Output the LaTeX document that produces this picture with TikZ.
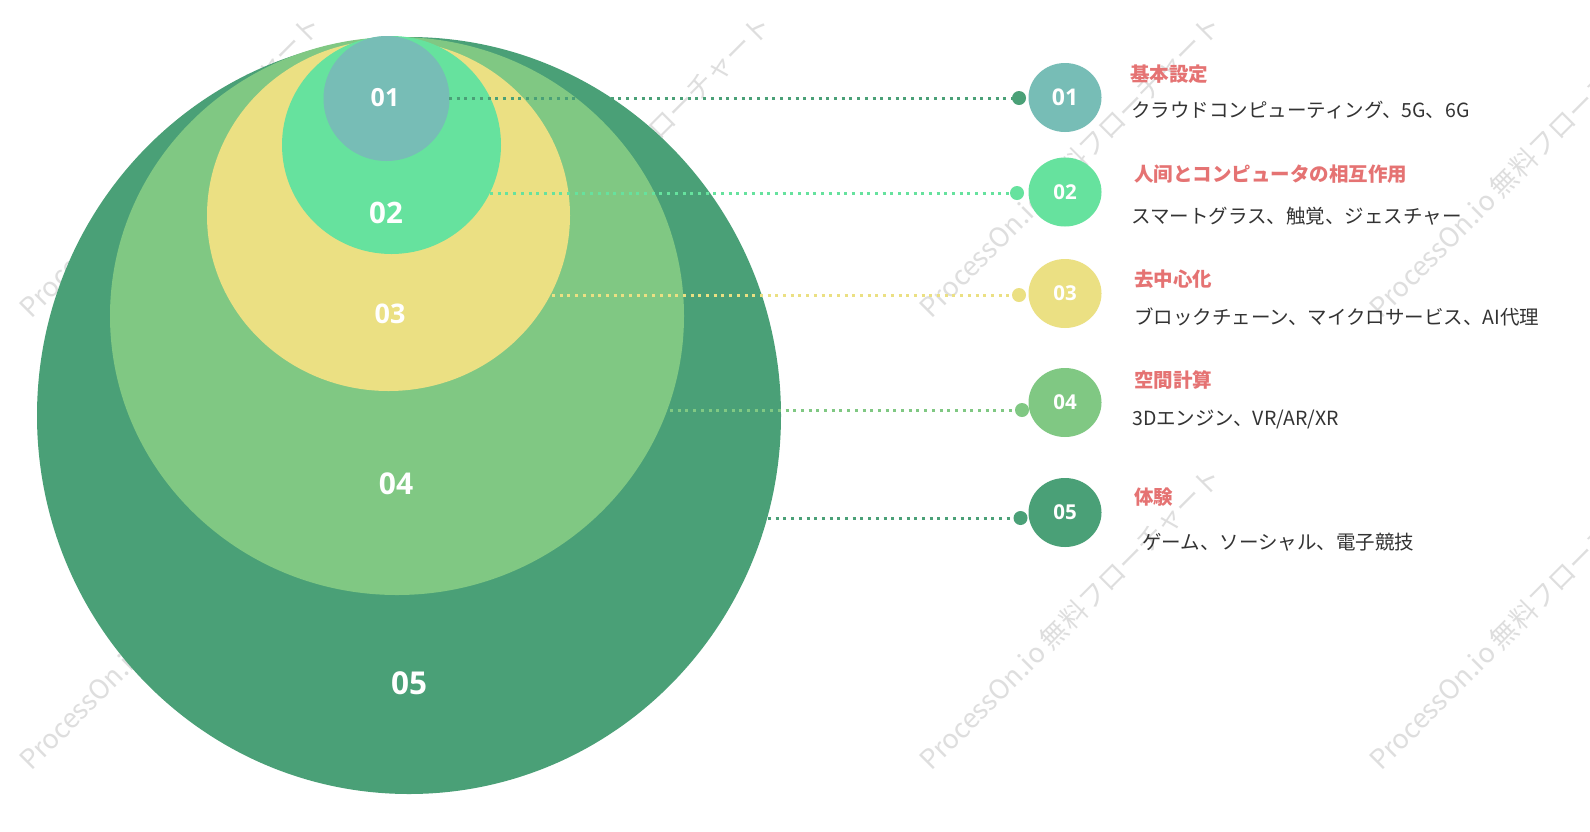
\documentclass[tikz,border=0pt]{standalone}
\usepackage{fontspec}
\usetikzlibrary{shapes.geometric}
\newfontfamily\jp{Noto Sans CJK JP}
\newfontfamily\num{Open Sans}
\definecolor{cfive}{HTML}{4AA077}
\definecolor{cfour}{HTML}{80C883}
\definecolor{cthree}{HTML}{EBE083}
\definecolor{ctwo}{HTML}{66E29E}
\definecolor{cone}{HTML}{77BDB6}
\definecolor{ttl}{HTML}{E57373}
\definecolor{bodytxt}{HTML}{333333}
\definecolor{wmgray}{HTML}{DEDEDE}
\tikzset{
  blob/.style={ellipse, draw=none, inner sep=0pt},
  biglab/.style={text=white, inner sep=0pt, font=\num\bfseries\fontsize{#1}{#1}\selectfont},
  smallcirc/.style={ellipse, draw=none, inner sep=0pt, minimum width=73pt, minimum height=69pt, text=white, font=\num\bfseries\fontsize{20.5}{20.5}\selectfont},
  enddot/.style={circle, draw=none, inner sep=0pt, minimum size=14pt},
  dotline/.style={line width=3pt, dash pattern=on 3pt off 4.7pt, line cap=butt},
  ttltext/.style={anchor=west, inner sep=0pt, text=ttl, font=\jp\bfseries\fontsize{19.5}{19.5}\selectfont},
  bodytext/.style={anchor=west, inner sep=0pt, text=bodytxt, font=\jp\fontsize{19.5}{19.5}\selectfont},
  wm/.style={anchor=base west, rotate=45, inner sep=0pt, text=wmgray, font=\jp\fontsize{27}{27}\selectfont}
}
\begin{document}
\begin{tikzpicture}[x=1pt,y=-1pt]
\useasboundingbox[fill=white] (0,0) rectangle (1590,831);
% watermarks
\foreach \wx in {31,481,931,1381}{
  \foreach \wy in {320,772}{
    \node[wm] (wm-\wx-\wy) at (\wx,\wy) {ProcessOn.io 無料フローチャート};
  }
}
% nested ellipses
\node[blob, fill=cfive, minimum width=744pt, minimum height=757pt] (e5) at (409,415.5) {};
\node[blob, fill=cfour, minimum width=574pt, minimum height=558pt] (e4) at (397,316) {};
\node[blob, fill=cthree, minimum width=363pt, minimum height=351pt] (e3) at (388.5,215.5) {};
\node[blob, fill=ctwo, minimum width=219pt, minimum height=218pt] (e2) at (391.5,145) {};
\node[blob, fill=cone, minimum width=126pt, minimum height=125pt] (e1) at (386.5,98.5) {};
% big labels
\node[biglab=25] (l1) at (385,98) {01};
\node[biglab=29.5] (l2) at (386,213) {02};
\node[biglab=27] (l3) at (390,314) {03};
\node[biglab=30] (l4) at (396,484) {04};
\node[biglab=31.5] (l5) at (409,683) {05};
% line starts
\coordinate (s1) at (449,98);
\coordinate (s2) at (490,193);
\coordinate (s3) at (552,295);
\coordinate (s4) at (670,410);
\coordinate (s5) at (768,518);
% end dots
\node[enddot, fill=cfive] (d1) at (1019,98) {};
\node[enddot, fill=ctwo] (d2) at (1017,193) {};
\node[enddot, fill=cthree] (d3) at (1019,295) {};
\node[enddot, fill=cfour] (d4) at (1022,410) {};
\node[enddot, fill=cfive] (d5) at (1020.5,518) {};
% dotted connectors
\draw[dotline, cfive] (s1) -- (d1.center);
\draw[dotline, ctwo] (s2) -- (d2.center);
\draw[dotline, cthree] (s3) -- (d3.center);
\draw[dotline, cfour] (s4) -- (d4.center);
\draw[dotline, cfive] (s5) -- (d5.center);
% small circles
\node[smallcirc, fill=cone, font=\num\bfseries\fontsize{23}{23}\selectfont] (r1) at (1065,97.5) {01};
\node[smallcirc, fill=ctwo] (r2) at (1065,192) {02};
\node[smallcirc, fill=cthree] (r3) at (1065,293.5) {03};
\node[smallcirc, fill=cfour] (r4) at (1065,402.5) {04};
\node[smallcirc, fill=cfive] (r5) at (1065,512.5) {05};
% titles
\node[ttltext] (t1) at (1130,74) {基本設定};
\node[ttltext] (t2) at (1134,174) {人间とコンピュータの相互作用};
\node[ttltext] (t3) at (1134,279) {去中心化};
\node[ttltext] (t4) at (1134,380) {空間計算};
\node[ttltext] (t5) at (1134,497) {体験};
% bodies
\node[bodytext] (b1) at (1131,110.5) {クラウドコンピューティング、5G、6G};
\node[bodytext] (b2) at (1131,216) {スマートグラス、触覚、ジェスチャー};
\node[bodytext] (b3) at (1134,317) {ブロックチェーン、マイクロサービス、AI代理};
\node[bodytext] (b4) at (1132,419) {3Dエンジン、VR/AR/XR};
\node[bodytext] (b5) at (1142,542.5) {ゲーム、ソーシャル、電子競技};
\end{tikzpicture}
\end{document}
